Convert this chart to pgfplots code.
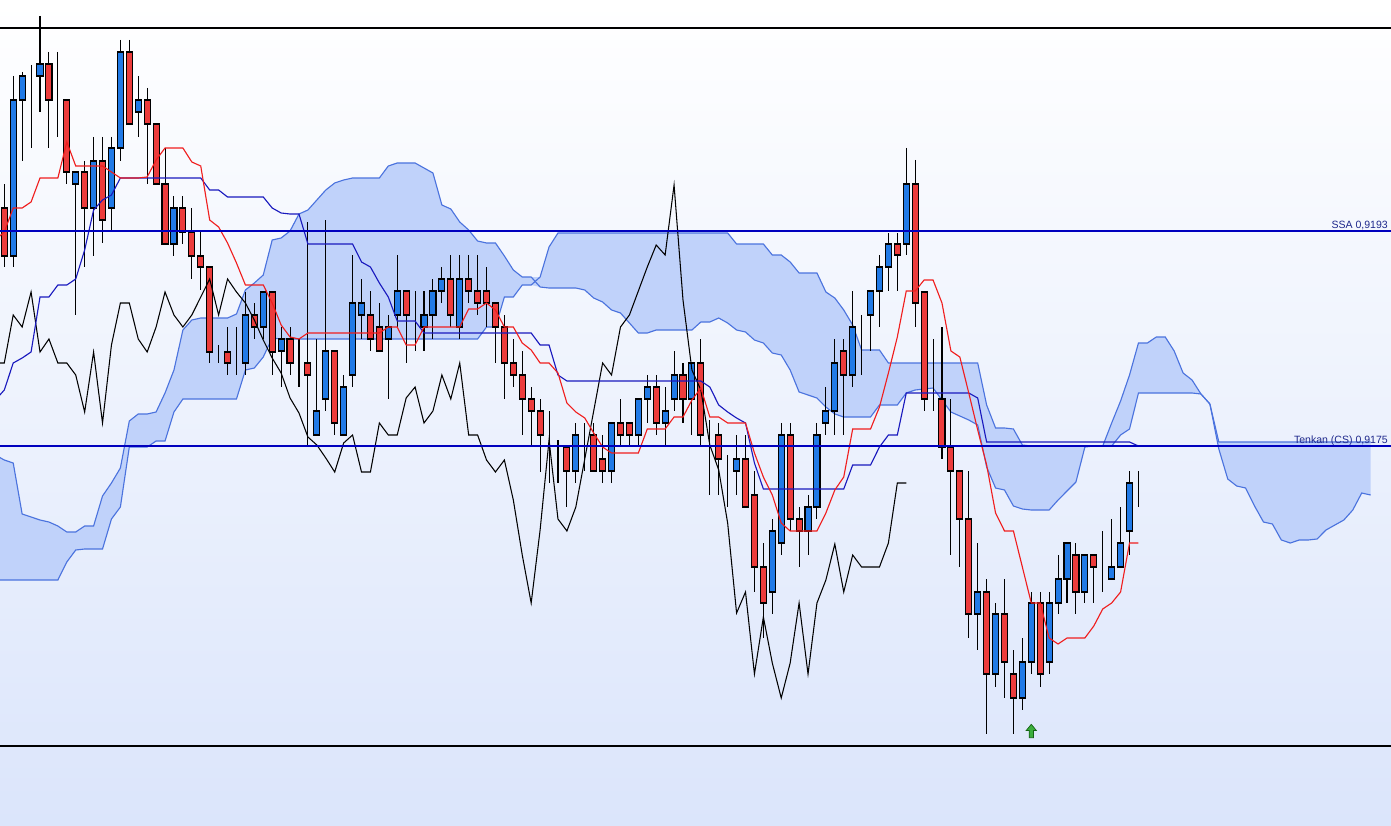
\documentclass[border=0pt]{standalone}
\usepackage{pgfplots}
\pgfplotsset{compat=1.18}
\usepackage{pgfplotstable}
\usepackage{fontspec}
\setmainfont{Liberation Sans}

\definecolor{upblue}{RGB}{33,122,230}
\definecolor{downred}{RGB}{236,60,60}
\definecolor{tenkanred}{RGB}{240,30,30}
\definecolor{kijunblue}{RGB}{25,25,190}
\definecolor{cloudfill}{RGB}{192,210,250}
\definecolor{cloudedge}{RGB}{75,115,222}
\definecolor{levelblue}{RGB}{0,0,190}
\definecolor{labelblue}{RGB}{30,40,140}
\definecolor{bgbottom}{RGB}{219,229,251}
\definecolor{siggreen}{RGB}{60,175,60}
\definecolor{sigdark}{RGB}{20,100,20}

\pgfdeclareplotmark{signalup}{%
  \pgfpathmoveto{\pgfqpoint{0pt}{1.9pt}}%
  \pgfpathlineto{\pgfqpoint{1.45pt}{0.15pt}}%
  \pgfpathlineto{\pgfqpoint{0.6pt}{0.15pt}}%
  \pgfpathlineto{\pgfqpoint{0.6pt}{-1.9pt}}%
  \pgfpathlineto{\pgfqpoint{-0.6pt}{-1.9pt}}%
  \pgfpathlineto{\pgfqpoint{-0.6pt}{0.15pt}}%
  \pgfpathlineto{\pgfqpoint{-1.45pt}{0.15pt}}%
  \pgfpathclose
  \pgfusepath{fill,stroke}}

% vertical values are screen rows of the chart (0 = top), one unit = one pixel
% candles: body top, body bottom, high, low, up (1 = blue / rising)
\pgfplotstableread{
i t b h l up
0 208 256 184 267 0
1 100 256 76 267 1
2 76 100 72 161 1
3 76 76 65 148 1
4 64 76 16 112 1
5 64 100 52 148 0
6 100 100 52 137 1
7 100 172 100 184 0
8 172 184 172 315 1
9 172 208 161 267 0
10 161 208 137 256 1
11 161 220 137 243 0
12 148 208 137 232 1
13 52 148 40 161 1
14 52 124 40 124 0
15 100 112 76 137 1
16 100 124 88 184 0
17 124 184 124 184 0
18 184 244 148 244 0
19 208 244 196 256 1
20 208 232 196 244 0
21 232 256 208 279 0
22 256 267 232 290 0
23 267 352 267 363 0
24 352 352 345 363 1
25 352 363 327 375 0
26 363 363 327 375 1
27 315 363 292 375 1
28 315 327 303 339 0
29 292 327 292 339 1
30 292 352 292 375 0
31 339 351 327 387 1
32 339 363 327 375 0
33 363 363 339 387 1
34 363 375 222 447 0
35 411 435 339 435 1
36 351 399 220 411 1
37 351 423 351 435 0
38 387 435 375 435 1
39 303 375 255 387 1
40 303 315 279 339 1
41 315 339 291 351 0
42 327 351 303 351 0
43 327 339 315 399 1
44 291 315 255 327 1
45 291 315 291 363 0
46 327 327 291 351 1
47 315 327 291 351 1
48 291 315 279 339 1
49 279 291 267 303 1
50 279 315 255 327 0
51 279 327 255 339 1
52 279 291 255 303 0
53 291 303 255 315 0
54 291 303 267 327 0
55 303 327 303 363 0
56 327 363 315 399 0
57 363 375 339 387 0
58 375 399 351 435 0
59 399 411 387 447 0
60 411 435 399 472 0
61 446 446 411 483 1
62 448 448 440 483 1
63 447 471 447 507 0
64 435 471 423 483 1
65 435 435 423 471 1
66 435 471 423 471 0
67 459 471 435 483 0
68 423 471 423 483 1
69 423 435 399 447 0
70 423 435 423 447 0
71 399 435 399 447 1
72 387 399 375 423 1
73 387 423 375 435 0
74 411 423 387 447 1
75 375 399 351 411 1
76 375 399 363 423 0
77 363 399 363 435 1
78 363 435 339 447 0
79 435 435 420 495 1
80 435 459 423 495 0
81 471 471 455 507 1
82 459 471 435 495 1
83 459 507 435 507 0
84 495 567 471 592 0
85 567 603 543 638 0
86 531 592 519 614 1
87 435 543 423 555 1
88 435 519 423 531 0
89 519 531 507 567 0
90 507 531 495 555 1
91 435 507 423 519 1
92 411 423 387 435 1
93 363 411 339 435 1
94 351 375 339 435 0
95 327 375 291 387 1
96 315 315 315 375 1
97 291 315 291 351 1
98 267 291 255 327 1
99 244 267 233 291 1
100 244 255 233 291 0
101 184 244 148 255 1
102 184 303 160 327 0
103 292 399 292 411 0
104 387 387 339 411 1
105 399 447 327 459 0
106 447 471 399 555 0
107 471 519 471 567 0
108 519 614 471 638 0
109 592 614 543 650 1
110 592 674 579 734 0
111 614 674 603 687 1
112 614 662 579 698 0
113 674 698 650 734 0
114 662 698 638 710 1
115 603 662 592 674 1
116 603 674 592 687 0
117 603 662 592 674 1
118 579 603 555 614 1
119 543 579 543 603 1
120 555 592 543 614 0
121 555 592 555 603 1
122 555 567 555 603 0
123 567 567 531 592 1
124 567 579 519 579 1
125 543 567 507 567 1
126 483 531 471 555 1
127 483 483 471 507 1
}\candles

% tenkan (tk) and kijun (kj)
\pgfplotstableread{
i tk kj
-1 240 400
0 232 390
1 208 363
2 208 358
3 202 352
4 178 297
5 178 297
6 178 285
7 142 285
8 166 279
9 166 250
10 166 210
11 166 200
12 172 195
13 178 178
14 178 178
15 178 178
16 177 178
17 160 178
18 148 178
19 148 178
20 148 178
21 162 178
22 166 178
23 220 190
24 227 190
25 243 197
26 263 197
27 285 197
28 285 197
29 285 197
30 303 208
31 325 213
32 337 214
33 339 214
34 333 244
35 333 244
36 333 244
37 333 244
38 333 244
39 333 244
40 333 262
41 333 267
42 333 283
43 327 297
44 327 321
45 345 321
46 345 321
47 327 333
48 327 333
49 327 333
50 327 333
51 327 333
52 309 333
53 309 333
54 303 333
55 310 333
56 327 333
57 327 333
58 343 333
59 350 333
60 363 345
61 363 345
62 373 375
63 403 381
64 412 381
65 418 381
66 433 381
67 447 381
68 453 381
69 453 381
70 453 381
71 453 381
72 429 381
73 429 381
74 429 381
75 417 381
76 417 381
77 400 381
78 388 381
79 417 387
80 417 405
81 423 412
82 423 418
83 423 423
84 453 463
85 477 489
86 495 489
87 523 489
88 531 489
89 531 489
90 531 489
91 531 489
92 513 489
93 490 489
94 477 489
95 429 465
96 429 465
97 429 465
98 407 447
99 373 435
100 337 435
101 291 393
102 291 393
103 280 393
104 280 393
105 303 393
106 351 393
107 357 393
108 393 393
109 430 398
110 465 442
111 513 442
112 531 442
113 531 442
114 567 442
115 603 442
116 603 442
117 638 442
118 644 442
119 638 442
120 638 442
121 638 442
122 626 442
123 609 442
124 603 442
125 592 442
126 543 442
127 543 446
}\midlines

% chikou span
\pgfplotstableread{
i c
-1 363
0 363
1 315
2 327
3 292
4 352
5 339
6 363
7 363
8 375
9 412
10 352
11 423
12 345
13 303
14 303
15 339
16 352
17 327
18 292
19 315
20 327
21 315
22 297
23 279
24 315
25 279
26 292
27 303
28 320
29 340
30 358
31 373
32 398
33 413
34 437
35 445
36 458
37 472
38 443
39 435
40 472
41 472
42 423
43 435
44 435
45 398
46 387
47 423
48 411
49 375
50 399
51 363
52 435
53 435
54 460
55 472
56 460
57 500
58 555
59 603
60 530
61 440
62 519
63 531
64 507
65 459
66 411
67 363
68 375
69 327
70 315
71 291
72 267
73 245
74 255
75 185
76 300
77 370
78 390
79 445
80 470
81 523
82 613
83 592
84 674
85 617
86 663
87 698
88 663
89 603
90 674
91 603
92 580
93 544
94 592
95 555
96 567
97 567
98 567
99 543
100 483
101 483
}\chikou

% cloud: the two senkou spans
\pgfplotstableread{
i a b
-1 455 580
0 460 580
1 463 580
2 514 580
3 517 580
4 520 580
5 522 580
6 526 580
7 532 562
8 532 550
9 526 549
10 526 549
11 496 549
12 483 519
13 468 507
14 421 447
15 414 447
16 414 447
17 412 441
18 393 441
19 370 412
20 330 399
21 320 399
22 318 399
23 318 399
24 318 399
25 318 399
26 314 399
27 290 370
28 283 368
29 275 357
30 240 338
31 238 339
32 231 339
33 214 339
34 210 339
35 200 339
36 190 339
37 183 339
38 180 339
39 178 339
40 178 339
41 178 339
42 178 339
43 166 339
44 163 339
45 163 339
46 163 339
47 168 339
48 173 339
49 205 339
50 209 339
51 222 339
52 230 339
53 241 339
54 243 327
55 243 327
56 256 297
57 270 297
58 277 285
59 277 285
60 287 277
61 288 247
62 288 233
63 288 233
64 288 233
65 290 233
66 298 233
67 302 233
68 310 233
69 313 233
70 323 233
71 333 233
72 333 233
73 330 233
74 330 233
75 330 233
76 330 233
77 330 233
78 322 233
79 322 233
80 318 233
81 323 233
82 330 244
83 332 244
84 340 244
85 343 244
86 353 255
87 355 255
88 370 262
89 392 273
90 395 273
91 398 273
92 407 292
93 414 298
94 417 310
95 417 325
96 417 350
97 417 350
98 405 350
99 405 363
100 405 363
101 393 363
102 390 363
103 389 363
104 388 363
105 400 363
106 412 363
107 416 363
108 420 363
109 425 363
110 467 405
111 488 428
112 490 428
113 506 429
114 509 445
115 510 446
116 510 446
117 510 446
118 500 446
119 491 446
120 482 446
121 447 446
122 446 446
123 446 446
124 423 446
125 401 435
126 375 429
127 343 393
128 343 393
129 337 393
130 337 393
131 351 393
132 373 393
133 380 393
134 394 394
135 404 404
136 449 442
137 479 442
138 486 442
139 488 442
140 506 442
141 522 442
142 524 442
143 540 442
144 543 442
145 540 442
146 540 442
147 539 442
148 530 442
149 525 442
150 520 442
151 510 442
152 493 442
153 495 442
}\cloud

\pgfplotsset{
  chartframe/.style={
    at={(0,0)}, anchor=south west,
    scale only axis, width=13.91cm, height=8.25cm,
    xmin=-0.48, xmax=155.28, ymin=0, ymax=825,
    y dir=reverse, hide axis, clip=true,
  },
}

\begin{document}
\begin{tikzpicture}
\shade[top color=white, bottom color=bgbottom] (0,0) rectangle (13.91cm,8.25cm);

% cloud body: invisible base up to the nearer span, then the gap between spans
\begin{axis}[chartframe, stack plots=y]
  \addplot[draw=none, fill=none]
    table[x=i, y expr={min(\thisrow{a},\thisrow{b})}] {\cloud} \closedcycle;
  \addplot[draw=none, fill=cloudfill]
    table[x=i, y expr={abs(\thisrow{a}-\thisrow{b})}] {\cloud} \closedcycle;
\end{axis}

% cloud edges and wicks
\begin{axis}[chartframe]
  \addplot[cloudedge, line width=0.32pt] table[x=i, y=a] {\cloud};
  \addplot[cloudedge, line width=0.32pt] table[x=i, y=b] {\cloud};
  \addplot[draw=none, mark=none,
    error bars/.cd, y dir=plus, y explicit, error mark=none,
    error bar style={draw=black, solid, line width=0.3pt}]
    table[x=i, y=h, y error expr=\thisrow{l}-\thisrow{h}] {\candles};
\end{axis}

% candle bodies
\begin{axis}[chartframe, ybar stacked, bar width=0.68]
  \addplot[draw=none, fill=none] table[x=i, y=t] {\candles};
  \addplot[fill=upblue, draw=black, line width=0.3pt]
    table[x=i, y expr=\thisrow{up}*(\thisrow{b}-\thisrow{t})] {\candles};
  \addplot[fill=downred, draw=black, line width=0.3pt]
    table[x=i, y expr=(1-\thisrow{up})*(\thisrow{b}-\thisrow{t})] {\candles};
\end{axis}

% lines, levels and labels
\begin{axis}[chartframe]
  \addplot[black, line width=0.3pt] table[x=i, y=c] {\chikou};
  \addplot[kijunblue, line width=0.32pt] table[x=i, y=kj] {\midlines};
  \addplot[tenkanred, line width=0.32pt] table[x=i, y=tk] {\midlines};
  \addplot[black, line width=0.3pt] coordinates {(-1,28) (156,28)};
  \addplot[black, line width=0.3pt] coordinates {(-1,746) (156,746)};
  \addplot[levelblue, line width=0.6pt] coordinates {(-1,231) (156,231)};
  \addplot[levelblue, line width=0.6pt] coordinates {(-1,446) (156,446)};
  \addplot[only marks, mark=signalup,
    mark options={fill=siggreen, draw=sigdark, line width=0.2pt}]
    coordinates {(115,731)};
  \node[anchor=base east, inner sep=0pt, text=labelblue,
    font=\fontsize{3}{3.6}\selectfont] at (axis cs:155.0,228.5) {SSA 0,9193};
  \node[anchor=base east, inner sep=0pt, text=labelblue,
    font=\fontsize{3}{3.6}\selectfont] at (axis cs:155.0,443.5) {Tenkan (CS) 0,9175};
\end{axis}
\end{tikzpicture}
\end{document}
